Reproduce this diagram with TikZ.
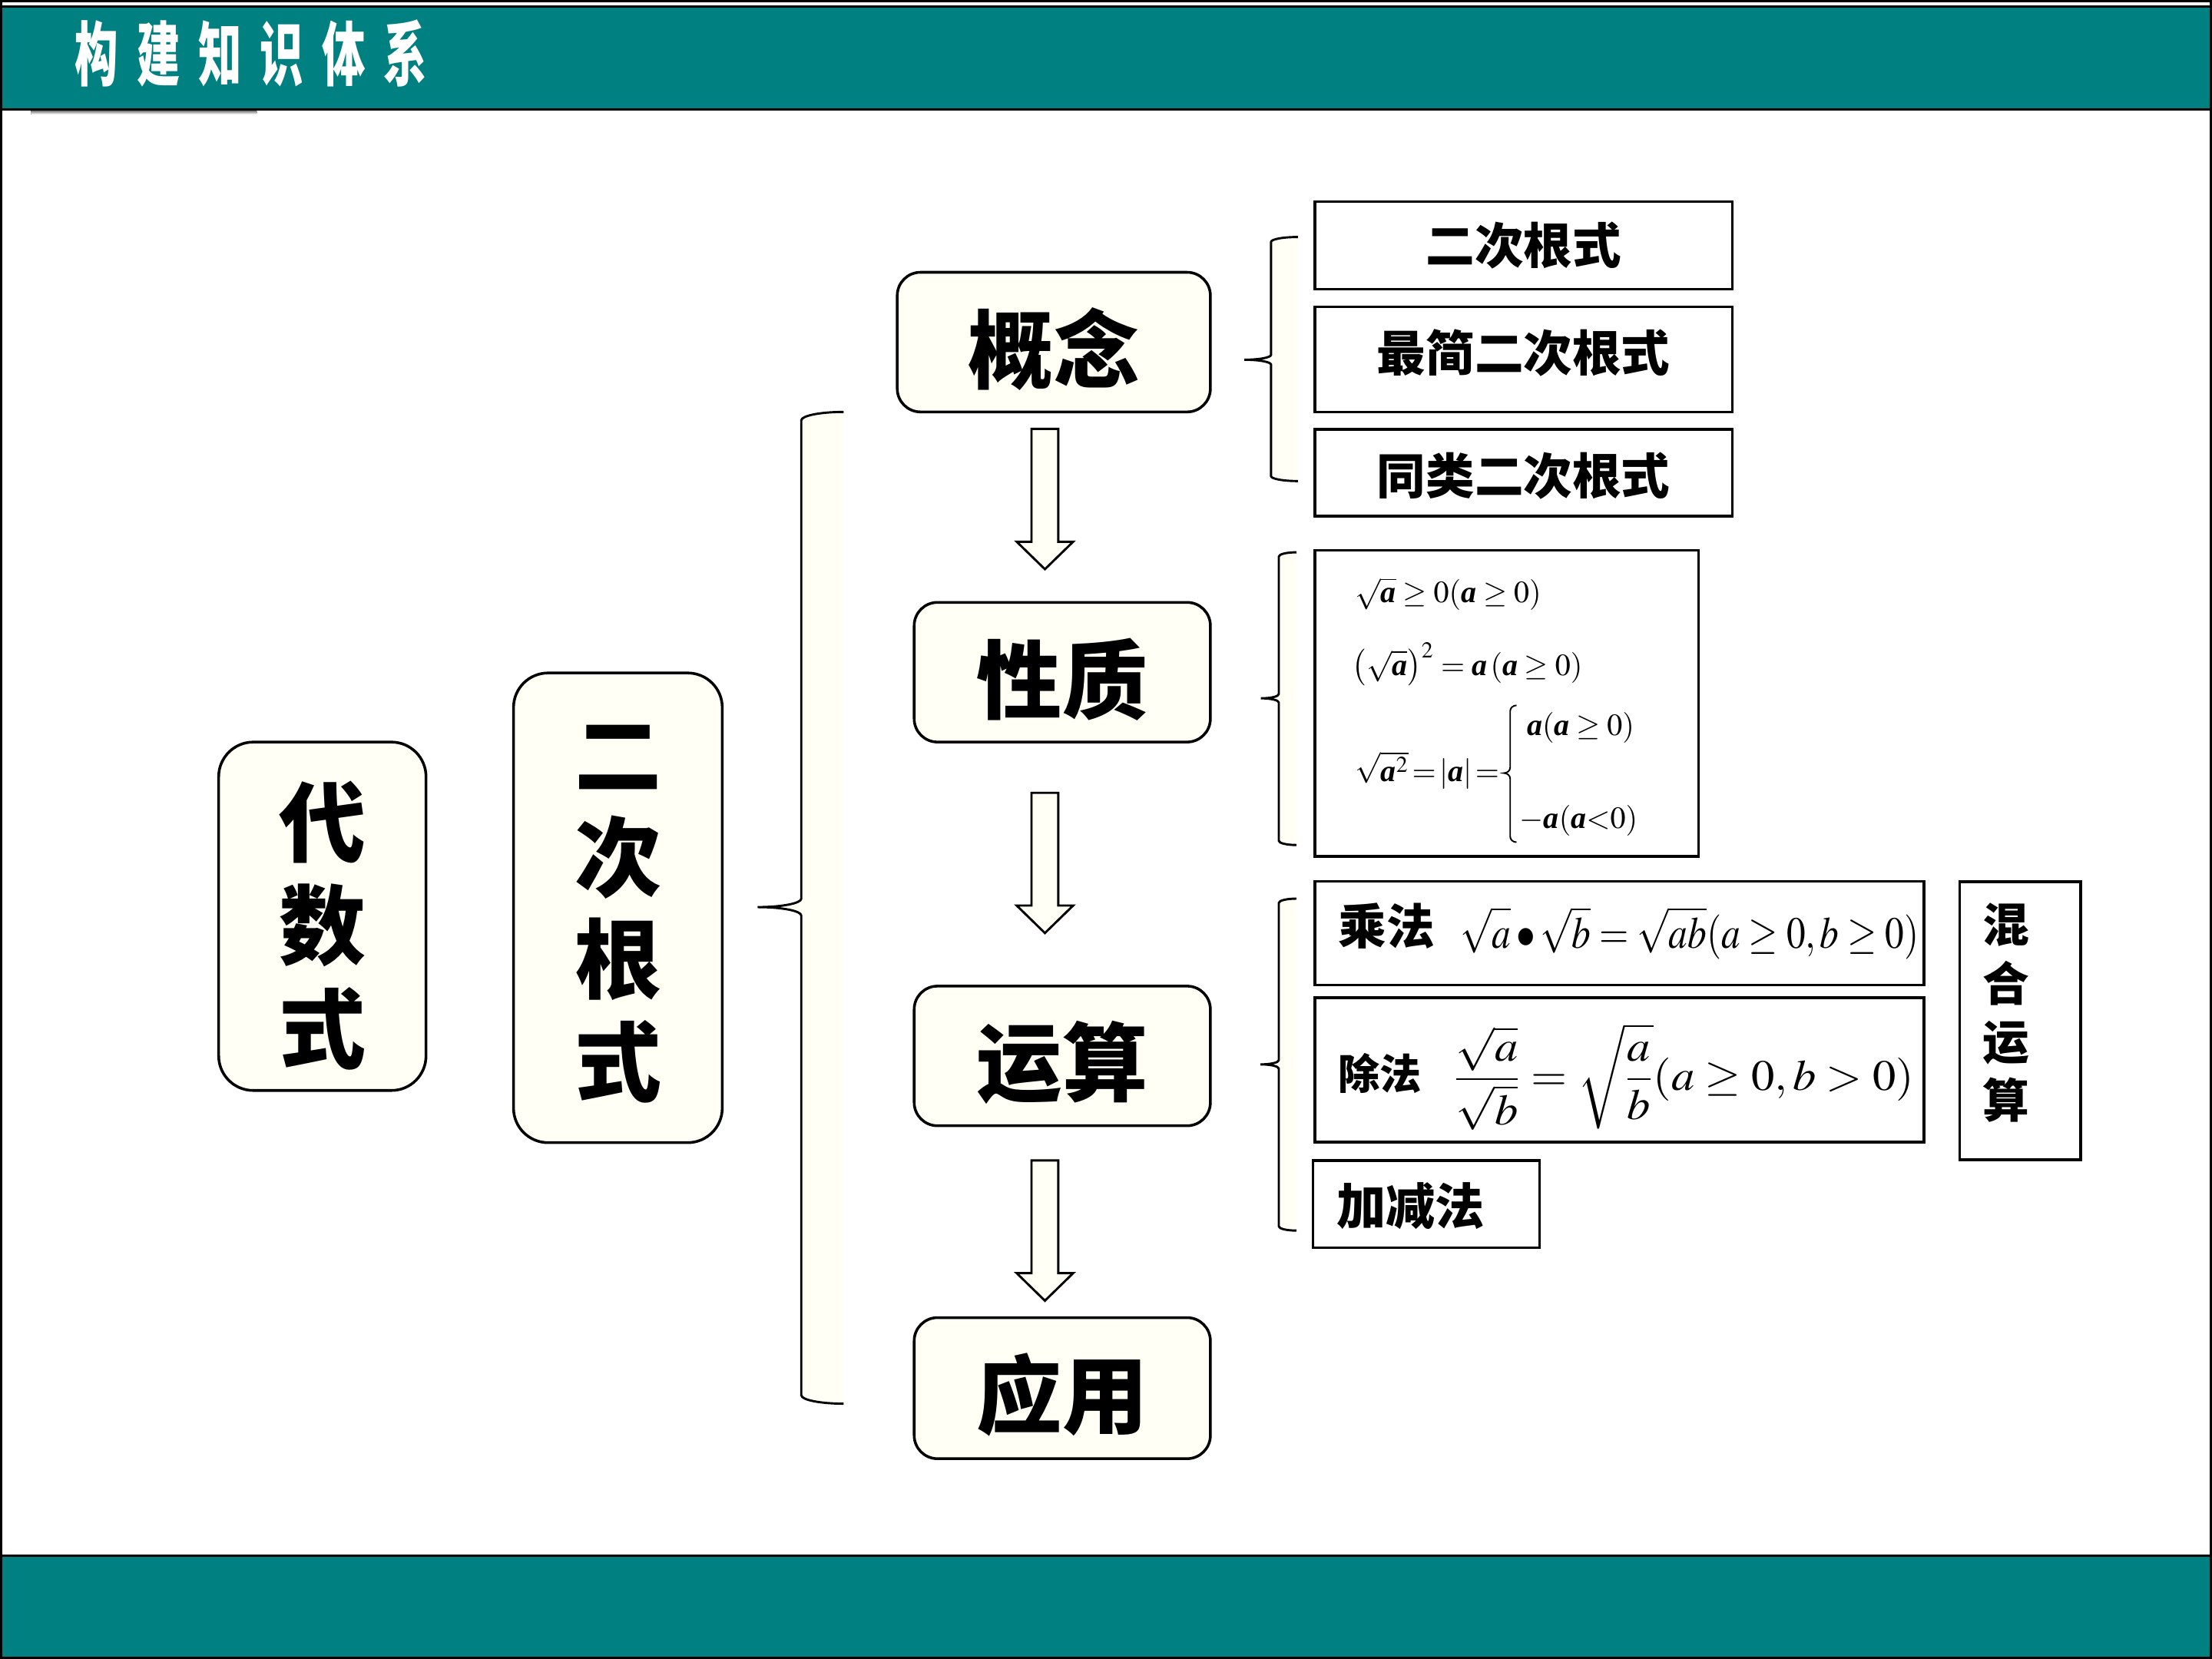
\documentclass[tikz,border=0pt]{standalone}
\usepackage{amsmath}
\usepackage{mathptmx}
\usepackage{graphicx}
\usepackage{fontspec}
\newfontfamily\cjk{Noto Sans CJK SC}
\newfontfamily\tms{Liberation Serif}
\newcommand\ba{\text{\tms\bfseries\itshape a}}
% push text down (extra height) / up (extra depth) inside its node
\newcommand\lowr[2]{\raisebox{0pt}[\dimexpr\height+#1\relax][\depth]{#2}}
\newcommand\uppr[2]{\raisebox{0pt}[\height][\dimexpr\depth+#1\relax]{#2}}
\definecolor{teal0}{RGB}{0,128,128}
\definecolor{cream}{RGB}{255,255,246}
\definecolor{shade}{RGB}{150,175,175}
% brace outline path: xr xv xt ytop ytip ybot ry
\newcommand\bracepath[7]{(#1,#4) .. controls ({#1-0.5523*(#1-#2)},#4) and (#2,{#4+0.4477*#7}) .. (#2,{#4+#7})
   -- (#2,{#5-#7}) .. controls (#2,{#5-0.4477*#7}) and ({#3+0.5523*(#2-#3)},#5) .. (#3,#5)
   .. controls ({#3+0.5523*(#2-#3)},#5) and (#2,{#5+0.4477*#7}) .. (#2,{#5+#7})
   -- (#2,{#6-#7}) .. controls (#2,{#6-0.4477*#7}) and ({#1-0.5523*(#1-#2)},#6) .. (#1,#6)}
\newcommand\mybrace[7]{%
 \fill[cream] \bracepath{#1}{#2}{#3}{#4}{#5}{#6}{#7} -- cycle;
 \draw[brc] \bracepath{#1}{#2}{#3}{#4}{#5}{#6}{#7};}
% hollow block arrow: xc ytop ytip
\newcommand\blockarrow[3]{%
 \draw[barrow] ({#1-9.5},#2) -- ({#1+9.5},#2) -- ({#1+9.5},{#3-19.5}) -- ({#1+20},{#3-19.5})
   -- (#1,#3) -- ({#1-20},{#3-19.5}) -- ({#1-9.5},{#3-19.5}) -- cycle;}
\begin{document}
\begin{tikzpicture}[x=0.02cm,y=-0.02cm,
  rbox/.style={draw=black, line width=1.1pt, fill=cream, inner sep=0pt, align=center,
     font=\cjk\bfseries\fontsize{34.5}{41.5}\selectfont},
  sbox/.style={draw=black, line width=1.1pt, fill=white, inner sep=0pt},
  lab/.style={inner sep=0pt, font=\cjk\bfseries\fontsize{#1}{#1}\selectfont},
  fml/.style={inner sep=0pt, font=\fontsize{12.4}{15}\selectfont},
  brc/.style={draw=black, line width=0.9pt},
  barrow/.style={draw=black, line width=0.9pt, fill=cream}]
\useasboundingbox (0,0) rectangle (1568,1176);
\fill[white] (0,0) rectangle (1568,1176);
% header band
\fill[black] (0,0) rectangle (1568,1.6);
\filldraw[fill=teal0,draw=black,line width=0.9pt] (0.7,4.6) rectangle (1567.3,77.4);
\fill[shade] (22,78.6) rectangle (182,81);
\node[inner sep=0pt, text=white, font=\cjk\bfseries\fontsize{28.2}{28.2}\selectfont] (title) at (178,37.7)
  {\scalebox{0.62}[1]{构\hspace{12pt}建\hspace{12pt}知\hspace{12pt}识\hspace{12pt}体\hspace{12pt}系}};
% footer band
\filldraw[fill=teal0,draw=black,line width=0.9pt] (0.7,1102.6) rectangle (1567.3,1175.4);
\draw[line width=0.9pt] (0.7,0) -- (0.7,1176) (1567.3,0) -- (1567.3,1176);

% main nodes
\node[rbox, minimum width=2.94cm, minimum height=4.94cm, rounded corners=0.49cm,
  font=\cjk\bfseries\fontsize{35}{41.7}\selectfont] (dai) at (228.5,649.5) {\lowr{7.4pt}{代}\\数\\式};
\node[rbox, minimum width=2.96cm, minimum height=6.66cm, rounded corners=0.49cm,
  font=\cjk\bfseries\fontsize{35}{41.3}\selectfont] (gen) at (438,643.5) {\vphantom{式}二\\次\\根\\式};
\node[rbox, minimum width=4.44cm, minimum height=1.98cm, rounded corners=0.33cm] (gn) at (747,242.5) {\lowr{5.6pt}{概念}};
\node[rbox, minimum width=4.2cm, minimum height=1.98cm, rounded corners=0.33cm] (xz) at (753,476.5) {\lowr{5.6pt}{性质}};
\node[rbox, minimum width=4.2cm, minimum height=1.98cm, rounded corners=0.33cm] (ys) at (753,748.5) {\lowr{5.6pt}{运算}};
\node[rbox, minimum width=4.2cm, minimum height=2.0cm, rounded corners=0.33cm] (yy) at (753,984) {\lowr{5.6pt}{应用}};

% block arrows
\blockarrow{740.7}{304}{403.5}
\blockarrow{740.7}{562}{661.4}
\blockarrow{740.7}{822.6}{922}

% braces
\mybrace{598}{568}{537}{292}{643}{995}{6}
\mybrace{920}{901}{882}{168}{255}{341}{3.5}
\mybrace{919}{906.5}{893.8}{391.5}{495}{599}{3}
\mybrace{919}{906.5}{893.5}{637}{754.5}{872.3}{3}

% concept boxes
\node[sbox, minimum width=5.92cm, minimum height=1.24cm, font=\cjk\bfseries\fontsize{19.7}{19.7}\selectfont] (c1) at (1080,174) {二次根式};
\node[sbox, minimum width=5.92cm, minimum height=1.49cm, font=\cjk\bfseries\fontsize{19.7}{19.7}\selectfont] (c2) at (1080,254.8) {\uppr{5.6pt}{最简二次根式}};
\node[sbox, minimum width=5.92cm, minimum height=1.23cm, font=\cjk\bfseries\fontsize{19.7}{19.7}\selectfont] (c3) at (1080,335.2) {\lowr{2.2pt}{同类二次根式}};

% property box
\node[sbox, minimum width=5.44cm, minimum height=4.34cm] (pbox) at (1068,498.5) {};
\node[fml, anchor=west] (f1) at (960.3,421) {$\sqrt{\ba}\ge0(\ba\ge0)$};
\node[fml, anchor=west] (f2) at (958.3,471) {$\left(\sqrt{\ba}\right)^{2}=\ba\left(\ba\ge0\right)$};
\node[fml, anchor=west] (f3) at (960.3,546) {\thickmuskip=2mu$\sqrt{\ba^{2}}=\lvert\ba\rvert=$};
\draw[line width=0.6pt] \bracepath{1075}{1070.5}{1066}{500}{548}{597}{4};
\node[fml, anchor=west] (f3a) at (1082,516) {$\ba(\ba\ge0)$};
\node[fml, anchor=west] (f3b) at (1077,582) {$-\ba(\ba{<}0)$};

% operation boxes
\node[sbox, minimum width=8.64cm, minimum height=1.47cm] (m1) at (1148,661.5) {};
\node[sbox, minimum width=8.64cm, minimum height=2.05cm] (m2) at (1148,758.4) {};
\node[sbox, minimum width=3.21cm, minimum height=1.24cm] (m3) at (1011,853.5) {};
\node[sbox, minimum width=1.72cm, minimum height=3.94cm] (m4) at (1432,723.5) {};
\node[lab=18.8, align=center, font=\cjk\bfseries\fontsize{18.8}{23.7}\selectfont] (m4t) at (1422,718) {混\\合\\运\\算};
\node[lab=19.4, anchor=west] (mul) at (948.3,656.5) {乘法};
\node[lab=16.8, anchor=west] (div) at (948.3,761) {除法};
\node[lab=19.9, anchor=west] (add) at (947,855) {加减法};
\node[inner sep=0pt, anchor=west] (mulf) at (1035,661.3)
  {\fontsize{19}{22}\selectfont\resizebox*{6.5cm}{0.74cm}{$\sqrt{\vphantom{b}a}\bullet\sqrt{b}=\sqrt{ab}(a\ge0,b\ge0)$}};
\node[inner sep=0pt, anchor=west] (divf) at (1029.6,763.3)
  {\fontsize{19}{22}\selectfont\resizebox*{6.54cm}{1.51cm}{$\displaystyle\frac{\sqrt{a}}{\sqrt{b}}=\sqrt{\frac{a}{b}}(a\ge0,b>0)$}};
\end{tikzpicture}
\end{document}
